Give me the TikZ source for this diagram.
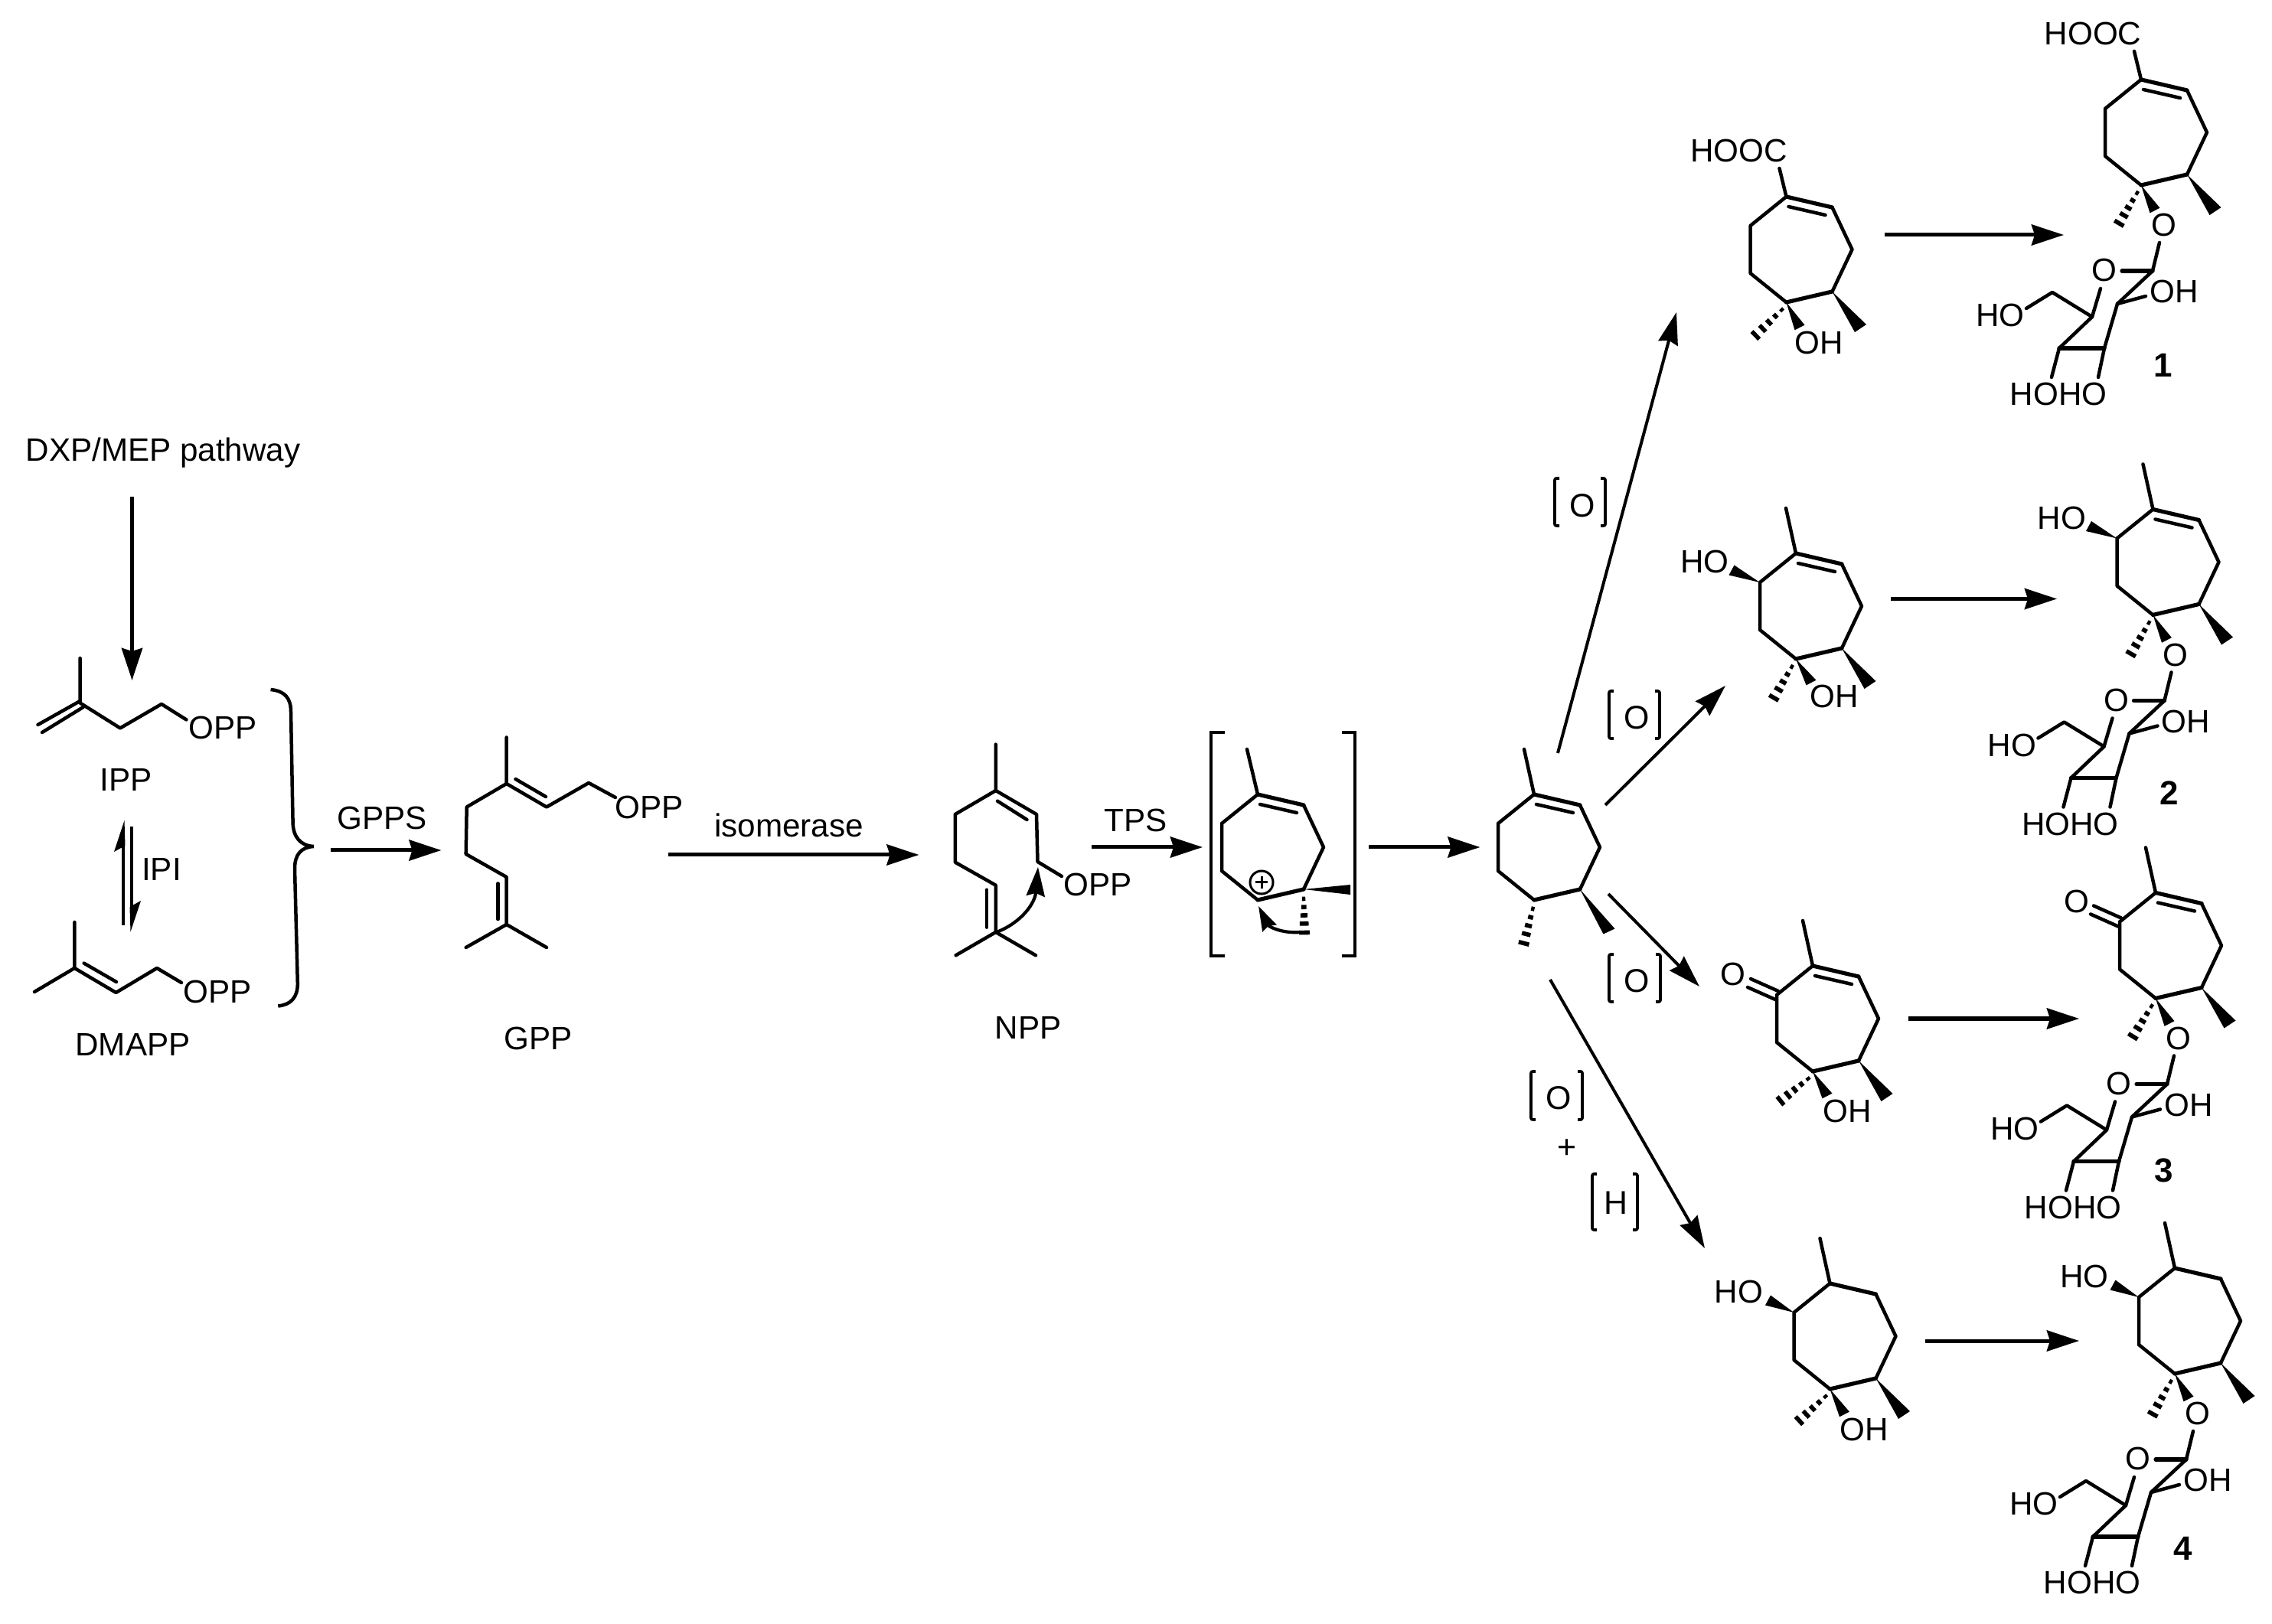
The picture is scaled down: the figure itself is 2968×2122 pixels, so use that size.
\documentclass[tikz,border=0pt]{standalone}
\usepackage{fontspec}
\setmainfont{Liberation Sans}
\usetikzlibrary{arrows.meta,calc}
\tikzset{
  bond/.style={line width=0.045cm,line cap=round,line join=round},
  thickbond/.style={line width=0.052cm,line cap=round,line join=round},
  wedgefill/.style={fill=black,draw=none},
  rxn/.style={line width=0.05cm,-{Stealth[length=0.42cm,width=0.27cm,inset=0.04cm]}},
  rxnthin/.style={line width=0.04cm,-{Stealth[length=0.42cm,width=0.26cm,inset=0.04cm]}},
  lab/.style={inner sep=0pt,font=\fontsize{12pt}{12pt}\selectfont},
  redox/.style={inner sep=0pt,font=\fontsize{12.2pt}{14pt}\selectfont},
  numlab/.style={inner sep=0pt,font=\fontsize{12.5pt}{12pt}\selectfont\bfseries},
  squarecap/.style={line width=0.036cm,line join=round,rounded corners=0.02cm}
}
% seven-membered ring; origin at C1
\newcommand{\hepting}{%
  \coordinate (c1) at (0,0);\coordinate (c2) at (60,14);\coordinate (c3) at (86,69);
  \coordinate (c4) at (60,124);\coordinate (c5) at (0,138);\coordinate (c6) at (-47,100);
  \coordinate (c7) at (-47,38);
  \draw[bond] (c2)--(c3)--(c4);
  \draw[thickbond] (c4)--(c5);
  \draw[bond] (c5)--(c6)--(c7)--(c1);
  \draw[thickbond] (c1)--(c2);
}
\newcommand{\enebond}{\draw[bond] (3,13)--(51,24);}
\newcommand{\wedgeb}[3]{\fill[wedgefill] (#1) -- ($(#2)+(#3)$) -- ($(#2)-(#3)$) -- cycle;}
% hashed bond from (x1,y1) to (x2,y2), widening towards the end
\newcommand{\hashb}[4]{%
  \pgfmathsetmacro{\hl}{veclen(#3-#1,#4-#2)}%
  \pgfmathsetmacro{\ux}{(#3-#1)/\hl}%
  \pgfmathsetmacro{\uy}{(#4-#2)/\hl}%
  \foreach \t/\w in {0.05/2.2,0.27/3.4,0.49/4.6,0.71/5.8,0.95/7}{%
    \draw[line width=0.056cm] ({#1+\t*(#3-#1)-\w*\uy},{#2+\t*(#4-#2)+\w*\ux})--({#1+\t*(#3-#1)+\w*\uy},{#2+\t*(#4-#2)-\w*\ux});
  }%
}
% lower substituents of the aglycone: methyl wedge, hashed methyl, OH wedge
\newcommand{\lowerOH}[4]{%
  \wedgeb{c4}{97,172}{-7.5,5}
  \wedgeb{c5}{#1,#2}{-6.5,3.3}
  \hashb{-4}{146}{#3}{#4}
}
% sugar unit, all relative to C1
\newcommand{\sugar}{%
  \node[lab] (gO) at (29.5,190) {O};
  \node[lab] (rO) at (-48,249) {O};
  \node[lab] (oh1) at (43,277) {OH};
  \node[lab] (ho1) at (-184,308) {HO};
  \node[lab] (hoho) at (-108,411) {HOHO};
  \coordinate (sa) at (15,250);\coordinate (sb) at (-31,293);\coordinate (sc) at (-48,351);
  \coordinate (sd) at (-107,351);\coordinate (se) at (-64,310);\coordinate (sf) at (-116,278);
  \draw[bond] (24,213)--(sa)--(sb)--(sc);
  \draw[thickbond] (-25,250)--(sa);
  \draw[thickbond] (sc)--(sd);
  \draw[bond] (sd)--(se)--(-53,273);
  \draw[bond] (se)--(sf)--(-150,299);
  \draw[bond] (sb)--(6,283);
  \draw[bond] (sc)--(-56,389);
  \draw[bond] (sd)--(-117,389);
}
\newcommand{\redoxbox}[5]{% x left, x right, y top, y bottom, name
  \draw[squarecap] (#1+6,#3)--(#1,#3)--(#1,#4)--(#1+6,#4);
  \draw[squarecap] (#2-6,#3)--(#2,#3)--(#2,#4)--(#2-6,#4);}
\begin{document}
\begin{tikzpicture}[x=0.01cm,y=-0.01cm]
\useasboundingbox (0,0) rectangle (2968,2122);
% ---------- left part
\node[lab] (dxp) at (213,592) {DXP/MEP pathway};
\coordinate (a1s) at (172.5,649);\coordinate (a1e) at (172.5,889);
\draw[rxn] (a1s)--(a1e);
% IPP
\draw[bond] (104.6,860)--(104.6,918.5)--(157,951.4)--(211,920)--(243.4,940.4);
\draw[bond] (49.5,947)--(104.6,916);
\draw[bond] (55,957)--(108.7,924);
\node[lab] (oppa) at (291,951) {OPP};
\node[lab] (ipp) at (165,1019) {IPP};
% IPI
\draw[line width=0.04cm] (161,1209)--(161,1085);
\fill (162.5,1072)--(149,1113)--(163.5,1105)--cycle;
\draw[line width=0.04cm] (172,1080)--(172,1205);
\fill (170.5,1217.5)--(184,1177)--(169.5,1185)--cycle;
\node[lab] (ipi) at (211,1136) {IPI};
% DMAPP
\draw[bond] (97.4,1205)--(97.4,1265)--(151.5,1297)--(205,1265)--(237,1284);
\draw[bond] (45,1296)--(97.4,1265);
\draw[bond] (109.7,1258.6)--(152,1283);
\node[lab] (oppb) at (284,1296) {OPP};
\node[lab] (dmapp) at (173.5,1365) {DMAPP};
% brace
\draw[line width=0.045cm] (353.6,901) .. controls (372,903) and (380,912) .. (380,930)
  -- (382.6,1075) .. controls (383,1093) and (392,1105) .. (409.7,1106)
  .. controls (393,1107) and (385,1117) .. (385,1135)
  -- (388.8,1285) .. controls (389,1303) and (380,1313) .. (363.3,1314.5);
% GPPS
\coordinate (a2s) at (432,1111);\coordinate (a2e) at (576.5,1111);
\draw[rxn] (a2s)--(a2e);
\node[lab] (gpps) at (499,1069) {GPPS};
% GPP
\draw[bond] (661.7,963.5)--(661.7,1024)--(609.7,1054.5)--(608.7,1116)--(661.7,1146)--(661.7,1208)--(608.7,1238);
\draw[bond] (661.7,1208)--(714,1238);
\draw[bond] (650.5,1154.4)--(650.5,1201);
\draw[bond] (661.7,1024)--(714,1054.5)--(769,1023)--(804,1042);
\draw[bond] (673.5,1018)--(713,1041);
\node[lab] (oppc) at (848,1055) {OPP};
\node[lab] (gpp) at (703,1357) {GPP};
% isomerase
\coordinate (a3s) at (873,1117);\coordinate (a3e) at (1200.5,1117);
\draw[rxn] (a3s)--(a3e);
\node[lab] (iso) at (1030.5,1078) {isomerase};
% NPP
\draw[bond] (1300.8,972.7)--(1300.8,1033)--(1247.8,1064)--(1247.8,1126.7)--(1300.8,1156.7)--(1300.8,1218)--(1248.6,1248.3);
\draw[bond] (1300.8,1218)--(1353,1248.3);
\draw[bond] (1300.8,1033)--(1354,1064)--(1355.5,1126)--(1387,1145);
\draw[bond] (1303,1046.7)--(1341.5,1071);
\draw[bond] (1289,1162.7)--(1289,1211.7);
\node[lab] (oppd) at (1434,1156) {OPP};
\node[lab] (npp) at (1343,1343) {NPP};
\coordinate (cvs) at (1302,1218);\coordinate (cve) at (1356,1133);
\draw[line width=0.042cm,-{Stealth[length=0.38cm,width=0.24cm,inset=0.04cm]}] (cvs) .. controls (1335,1205) and (1352,1180) .. (cve);
% TPS
\coordinate (a4s) at (1426,1107);\coordinate (a4e) at (1571,1107);
\draw[rxn] (a4s)--(a4e);
\node[lab] (tps) at (1484,1072) {TPS};
% bracket of the cation
\draw[line width=0.045cm] (1600,957)--(1582,957)--(1582,1249)--(1600,1249);
\draw[line width=0.045cm] (1753,957)--(1770,957)--(1770,1249)--(1753,1249);
\begin{scope}[shift={(1643,1038)}]
  \hepting \enebond
  \draw[bond] (c1)--(-14,-59);
  \fill[wedgefill] (c4)--(121,118)--(121,131)--cycle;
  \hashb{60}{134}{61}{183}
  \node[draw,circle,line width=0.03cm,minimum size=0.3cm,inner sep=0pt] (pos) at (5,115) {};
  \draw[line width=0.03cm] (-3,115)--(13,115) (5,107)--(5,123);
  \coordinate (cws) at (56,180);\coordinate (cwe) at (1,146);
  \draw[line width=0.042cm,-{Stealth[length=0.32cm,width=0.2cm,inset=0.03cm]}] (cws) .. controls (30,182) and (14,172) .. (cwe);
\end{scope}
\coordinate (a5s) at (1788,1107);\coordinate (a5e) at (1933.5,1107);
\draw[rxn] (a5s)--(a5e);
% central olefin
\begin{scope}[shift={(2004,1038)}]
  \hepting \enebond
  \draw[bond] (c1)--(-13,-59);
  \wedgeb{c4}{98,179}{-7.5,3.5}
  \hashb{-1}{147}{-14}{197}
\end{scope}
% diverging arrows
\coordinate (d1s) at (2035,984);\coordinate (d1e) at (2190,408);
\coordinate (d2s) at (2097,1052);\coordinate (d2e) at (2254,896);
\coordinate (d3s) at (2101,1168);\coordinate (d3e) at (2220,1289);
\coordinate (d4s) at (2025,1280);\coordinate (d4e) at (2227,1631);
\draw[rxnthin] (d1s)--(d1e);
\draw[rxnthin] (d2s)--(d2e);
\draw[rxnthin] (d3s)--(d3e);
\draw[rxnthin] (d4s)--(d4e);
% [O], [H]
\redoxbox{2031}{2097}{625}{687}{o1}\node[redox] (o1) at (2067,661) {O};
\redoxbox{2102}{2168}{903}{965}{o2}\node[redox] (o2) at (2138,938) {O};
\redoxbox{2102}{2169}{1247}{1309}{o3}\node[redox] (o3) at (2138,1282) {O};
\redoxbox{2000}{2067}{1400}{1463}{o4}\node[redox] (o4) at (2036,1435) {O};
\node[redox] (plus) at (2047,1501) {+};
\redoxbox{2080}{2139}{1534}{1607}{h4}\node[redox] (h4) at (2111,1572) {H};
% ---------- compound row 1
\begin{scope}[shift={(2333.5,257)}]
  \hepting \enebond
  \draw[bond] (c1)--(-9,-37);
  \node[lab] (hoocA) at (-62,-60) {HOOC};
  \lowerOH{17.5}{171}{-42}{183}
  \node[lab] (ohA) at (43,191) {OH};
\end{scope}
\coordinate (b1s) at (2461.5,307);\coordinate (b1e) at (2696,307);
\draw[rxn] (b1s)--(b1e);
\begin{scope}[shift={(2797,104)}]
  \hepting \enebond
  \draw[bond] (c1)--(-9,-37);
  \node[lab] (hoocB) at (-63,-60) {HOOC};
  \lowerOH{18}{171}{-30}{190}
  \sugar
  \node[numlab] (n1) at (29,373) {1};
\end{scope}
% ---------- compound row 2
\begin{scope}[shift={(2346,723)}]
  \hepting \enebond
  \draw[bond] (c1)--(-13,-59);
  \wedgeb{c7}{-84,22}{-3.5,6.5}
  \node[lab] (hoC) at (-119,11) {HO};
  \lowerOH{20}{169}{-30}{191}
  \node[lab] (ohC) at (50,187) {OH};
\end{scope}
\coordinate (b2s) at (2470,782.5);\coordinate (b2e) at (2687,782.5);
\draw[rxn] (b2s)--(b2e);
\begin{scope}[shift={(2812.5,665.5)}]
  \hepting \enebond
  \draw[bond] (c1)--(-13,-59);
  \wedgeb{c7}{-84,22}{-3.5,6.5}
  \node[lab] (hoD) at (-119,11) {HO};
  \lowerOH{18}{171}{-30}{191}
  \sugar
  \node[numlab] (n2) at (21,370.5) {2};
\end{scope}
% ---------- compound row 3
\begin{scope}[shift={(2368,1262)}]
  \hepting \enebond
  \draw[bond] (c1)--(-13,-59);
  \draw[bond] (-81,17)--(-45,33) (-85,28)--(-49,44);
  \node[lab] (oE) at (-104,11) {O};
  \lowerOH{19}{170}{-44}{178}
  \node[lab] (ohE) at (45,190) {OH};
\end{scope}
\coordinate (b3s) at (2492.5,1331);\coordinate (b3e) at (2716,1331);
\draw[rxn] (b3s)--(b3e);
\begin{scope}[shift={(2816,1166.5)}]
  \hepting \enebond
  \draw[bond] (c1)--(-13,-59);
  \draw[bond] (-81,17)--(-45,33) (-85,28)--(-49,44);
  \node[lab] (oF) at (-103,11) {O};
  \lowerOH{18}{171}{-31}{190}
  \sugar
  \node[numlab] (n3) at (10.5,363) {3};
\end{scope}
% ---------- compound row 4
\begin{scope}[shift={(2390.5,1677)}]
  \hepting
  \draw[bond] (c1)--(-13,-59);
  \wedgeb{c7}{-81,22}{-3.5,6.5}
  \node[lab] (hoG) at (-119,11) {HO};
  \lowerOH{19}{171}{-42}{181}
  \node[lab] (ohG) at (45,191) {OH};
\end{scope}
\coordinate (b4s) at (2515,1752);\coordinate (b4e) at (2716,1752);
\draw[rxn] (b4s)--(b4e);
\begin{scope}[shift={(2841,1657)}]
  \hepting
  \draw[bond] (c1)--(-13,-59);
  \wedgeb{c7}{-81,22}{-3.5,6.5}
  \node[lab] (hoH) at (-118,11) {HO};
  \lowerOH{18}{171}{-30}{193}
  \sugar
  \node[numlab] (n4) at (10.5,366) {4};
\end{scope}
\end{tikzpicture}
\end{document}
